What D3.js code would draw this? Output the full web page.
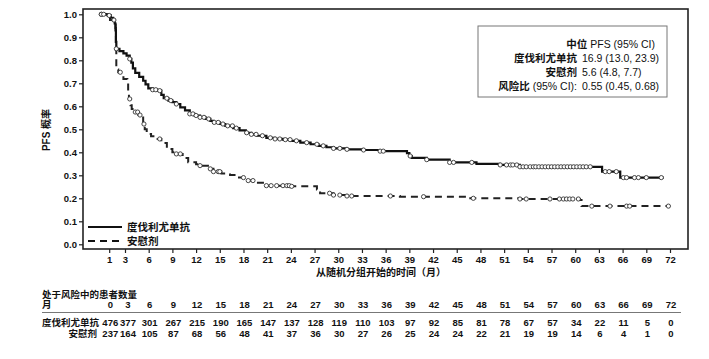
<!DOCTYPE html>
<html><head><meta charset="utf-8">
<script src="https://cdn.jsdelivr.net/npm/d3@7/dist/d3.min.js"></script>
<style>
body{margin:0;background:#fff;}
svg text{font-family:"Liberation Sans",Arial,"Noto Sans CJK SC",sans-serif;fill:#111;}
</style></head>
<body><svg id="c" width="709" height="359"></svg>
<script>
// ---- data ----
const xTicks = [1,3,6,9,12,15,18,21,24,27,30,33,36,39,42,45,48,51,54,57,60,63,66,69,72];
const yTicks = [0,0.1,0.2,0.3,0.4,0.5,0.6,0.7,0.8,0.9,1.0];
const riskMonths = [0,3,6,9,12,15,18,21,24,27,30,33,36,39,42,45,48,51,54,57,60,63,66,69,72];
const riskDurva = [476,377,301,267,215,190,165,147,137,128,119,110,103,97,92,85,81,78,67,57,34,22,11,5,0];
const riskPlacebo = [237,164,105,87,68,56,48,41,37,36,30,27,26,25,24,24,22,21,19,19,14,6,4,1,0];
const durvaTimes = [0,0.8,1.2,1.5,1.7,1.8,1.85,1.9,2.3,2.8,3.2,3.6,3.8,4.0,4.3,4.8,5.3,5.6,5.95,6.5,7.2,7.6,7.9,8.5,9.0,9.5,10.0,10.6,11.2,11.8,12.5,13.2,13.8,14.2,15.0,15.7,16.7,17.5,18.3,19.0,19.7,20.9,22.0,23.0,24.0,25.2,26.5,27.5,28.5,29.4,31.0,33.0,35.3,38.7,39.0,39.3,41.2,44.1,47.5,50.5,53.0,63.4,65.7,71.2];
const durvaSurv  = [1.0,0.995,0.985,0.975,0.96,0.93,0.88,0.85,0.84,0.83,0.82,0.806,0.79,0.765,0.745,0.728,0.711,0.695,0.678,0.672,0.668,0.65,0.635,0.625,0.618,0.61,0.595,0.582,0.567,0.56,0.552,0.545,0.537,0.53,0.523,0.515,0.505,0.495,0.485,0.478,0.472,0.463,0.458,0.455,0.45,0.442,0.435,0.428,0.422,0.417,0.413,0.41,0.405,0.396,0.384,0.376,0.368,0.356,0.35,0.345,0.337,0.316,0.29,0.29];
const placeboTimes = [0,0.9,1.1,1.5,1.8,1.85,1.9,2.15,2.5,2.8,3.3,3.4,3.5,3.7,3.85,4.3,4.7,5.3,5.5,5.75,6.3,7.0,7.6,8.3,9.0,9.5,10.3,11.0,12.0,12.5,13.5,14.2,15.2,16.3,17.3,18.4,19.5,20.9,23.9,27.3,27.7,29.4,31.1,37.8,46.3,53.0,60.6,60.8,71.8];
const placeboSurv  = [1.0,0.99,0.975,0.965,0.94,0.85,0.76,0.748,0.735,0.719,0.70,0.66,0.632,0.605,0.588,0.575,0.562,0.523,0.50,0.48,0.47,0.458,0.44,0.414,0.40,0.393,0.375,0.357,0.348,0.342,0.328,0.316,0.308,0.301,0.29,0.277,0.268,0.255,0.252,0.238,0.222,0.214,0.21,0.207,0.2,0.197,0.193,0.166,0.166];
const durvaCensor = [0,0.3,1.0,1.6,1.9,3.6,6.5,6.9,7.4,8.3,8.8,9.5,11.2,11.6,12.0,12.5,13.0,13.6,14.3,14.8,15.4,16.0,16.6,17.1,18.4,19.0,19.6,20.4,21.4,22.0,22.6,23.3,23.9,24.7,26.0,27.3,28.1,29.4,30.2,31.1,33.2,35.3,35.7,39.1,41.2,44.1,44.6,46.9,50.5,51.3,51.8,52.1,52.6,53.0,53.4,53.8,54.3,54.7,55.0,55.4,55.8,56.2,56.6,57.0,57.4,57.8,58.2,58.6,59.0,59.4,59.8,60.2,60.6,61.0,61.4,61.9,63.8,64.3,65.2,66.1,66.5,67.5,68.0,69.0,70.9];
const placeboCensor = [0,2.4,3.6,4.3,4.6,4.9,5.4,7.4,9.5,10.0,12.5,13.8,14.2,14.8,15.0,18.0,18.6,19.2,20.9,21.5,22.2,23.0,23.5,23.8,24.1,28.9,29.4,30.2,31.1,31.7,36.6,40.8,47.1,53.0,53.8,56.8,58.0,58.5,58.9,59.3,59.7,60.4,62.1,64.4,66.5,66.9,71.8];
const durvaLabel = "度伐利尤单抗", placeboLabel = "安慰剂";

// ---- layout ----
const svg = d3.select("#c");
const frame = {l:83, r:688, t:9, b:249};
const x = d3.scaleLinear().domain([0,72]).range([101.3,670]);
const y = d3.scaleLinear().domain([0,1]).range([244.3,14.3]);

// axes
const yAx = svg.append("g").attr("transform",`translate(${frame.l},0)`)
  .call(d3.axisLeft(y).tickValues(yTicks).tickFormat(d3.format(".1f")).tickSize(4).tickPadding(2));
const xAx = svg.append("g").attr("transform",`translate(0,${frame.b})`)
  .call(d3.axisBottom(x).tickValues(xTicks).tickSize(4).tickPadding(3));
[yAx,xAx].forEach(g=>{
  g.select(".domain").remove();
  g.selectAll("line").attr("stroke","#222").attr("stroke-width",1.2);
  g.selectAll("text").style("font-size","9.5px").style("font-weight","bold").attr("fill","#222");
});

// frame
svg.append("rect").attr("x",frame.l).attr("y",frame.t).attr("width",frame.r-frame.l).attr("height",frame.b-frame.t)
  .attr("fill","none").attr("stroke","#222").attr("stroke-width",1.6);

// curves
function pts(ts,ss){return ts.map((t,i)=>[t,ss[i]]);}
function survAt(ts,ss,t){let v=ss[0];for(let i=0;i<ts.length;i++){if(ts[i]<=t)v=ss[i];}return v;}
const line = d3.line().x(d=>x(d[0])).y(d=>y(d[1])).curve(d3.curveStepAfter);
svg.append("path").attr("d",line(pts(placeboTimes,placeboSurv))).attr("fill","none")
  .attr("stroke","#222").attr("stroke-width",2).attr("stroke-dasharray","7,5");
svg.append("path").attr("d",line(pts(durvaTimes,durvaSurv))).attr("fill","none")
  .attr("stroke","#111").attr("stroke-width",2.2);

function censor(cs,ts,ss){
  svg.append("g").selectAll("circle").data(cs).join("circle")
    .attr("cx",d=>x(d)).attr("cy",d=>y(survAt(ts,ss,d))).attr("r",2.1)
    .attr("fill","#fff").attr("stroke","#333").attr("stroke-width",0.9);
}
censor(placeboCensor,placeboTimes,placeboSurv);
censor(durvaCensor,durvaTimes,durvaSurv);

// legend
svg.append("line").attr("x1",88).attr("x2",122).attr("y1",227).attr("y2",227).attr("stroke","#111").attr("stroke-width",2.2);
svg.append("line").attr("x1",88).attr("x2",122).attr("y1",241).attr("y2",241).attr("stroke","#111").attr("stroke-width",2.2).attr("stroke-dasharray","7,5");
svg.append("text").attr("x",127).attr("y",227).attr("dy","0.35em").style("font-size","10.5px").style("font-weight","bold").text(durvaLabel);
svg.append("text").attr("x",127).attr("y",241).attr("dy","0.35em").style("font-size","10.5px").style("font-weight","bold").text(placeboLabel);

// info box
svg.append("rect").attr("x",478).attr("y",26).attr("width",189).attr("height",71).attr("fill","#fff").attr("stroke","#777").attr("stroke-width",1);
const hdr = svg.append("text").attr("x",655).attr("y",44).attr("dy","0.35em").attr("text-anchor","end").style("font-size","10.5px");
hdr.append("tspan").style("font-weight","bold").text("中位");
hdr.append("tspan").text(" PFS (95% CI)");
const boxRows = [[durvaLabel,"","16.9 (13.0, 23.9)"],[placeboLabel,"","5.6 (4.8, 7.7)"],["风险比"," (95% CI):","0.55 (0.45, 0.68)"]];
boxRows.forEach((r,i)=>{
  const yy = 58 + i*14;
  const t = svg.append("text").attr("x",577).attr("y",yy).attr("dy","0.35em").attr("text-anchor","end").style("font-size","10.5px");
  t.append("tspan").style("font-weight","bold").text(r[0]);
  if(r[1]) t.append("tspan").text(r[1]);
  svg.append("text").attr("x",582).attr("y",yy).attr("dy","0.35em").style("font-size","10.5px").text(r[2]);
});

// axis titles
svg.append("text").attr("transform","translate(46,130) rotate(-90)").attr("text-anchor","middle").attr("dy","0.35em")
  .style("font-size","10px").style("font-weight","bold").text("PFS 概率");
svg.append("text").attr("x",381).attr("y",272).attr("dy","0.35em").attr("text-anchor","middle")
  .style("font-size","10px").style("font-weight","bold").text("从随机分组开始的时间（月）");

// risk table
const tx = m => x(m) + (m===0 ? 9 : m===3 ? 3 : 1);
const tfont = "9.5px";
svg.append("text").attr("x",42).attr("y",295).attr("dy","0.35em").style("font-size",tfont).style("font-weight","bold").text("处于风险中的患者数量");
svg.append("text").attr("x",42).attr("y",305).attr("dy","0.35em").style("font-size",tfont).style("font-weight","bold").text("月");
svg.append("line").attr("x1",42).attr("x2",681).attr("y1",312.5).attr("y2",312.5).attr("stroke","#777").attr("stroke-width",1);
svg.append("text").attr("x",42).attr("y",323).attr("dy","0.35em").style("font-size",tfont).style("font-weight","bold").text(durvaLabel);
svg.append("text").attr("x",97).attr("y",334).attr("dy","0.35em").attr("text-anchor","end").style("font-size",tfont).style("font-weight","bold").text(placeboLabel);
[[riskMonths,305],[riskDurva,323],[riskPlacebo,334]].forEach(([arr,yy])=>{
  svg.append("g").selectAll("text").data(arr).join("text")
    .attr("x",(d,i)=>tx(riskMonths[i])).attr("y",yy).attr("dy","0.35em").attr("text-anchor","middle")
    .style("font-size",tfont).style("font-weight","bold").attr("fill","#222").text(d=>d);
});
</script></body></html>
